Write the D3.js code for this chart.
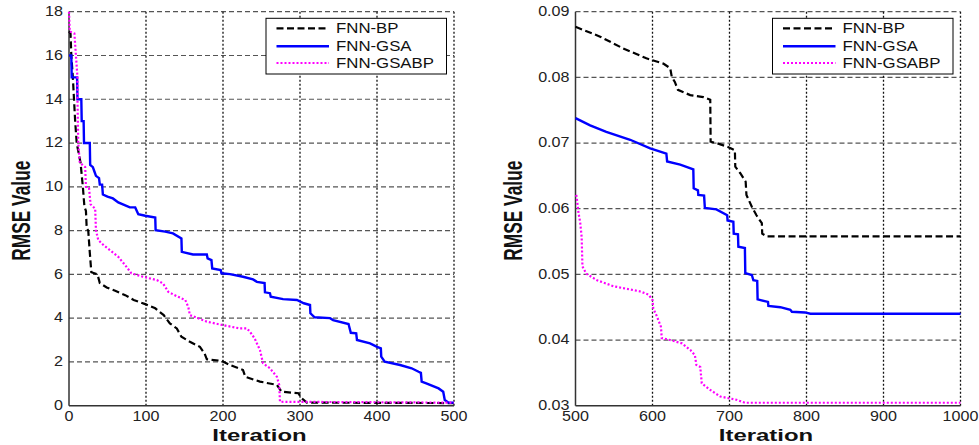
<!DOCTYPE html>
<html><head><meta charset="utf-8">
<script src="https://cdn.jsdelivr.net/npm/d3@7"></script>
<style>html,body{margin:0;padding:0;background:#fff;}svg{display:block;}</style>
</head><body>
<svg id="c" width="979" height="445"></svg>
<script>
// ---------- DATA ----------
const seriesNames = ["FNN-BP", "FNN-GSA", "FNN-GSABP"];
const leftXTicks = [0, 100, 200, 300, 400, 500];
const leftYTicks = [0, 2, 4, 6, 8, 10, 12, 14, 16, 18];
const rightXTicks = [500, 600, 700, 800, 900, 1000];
const rightYTicks = [0.03, 0.04, 0.05, 0.06, 0.07, 0.08, 0.09];
const xTitle = "Iteration";
const yTitle = "RMSE Value";

// left panel: [iteration, RMSE]
const bpLeft = [[0,17.1],[2,17.0],[3,16],[5,15],[6.5,14],[8,13],[10,12],[15,11.1],[18,10],[20,9.1],[22,8.9],[23,8.1],[25,8.0],[27,7.0],[29,6.1],[37,6.0],[40,5.6],[49,5.4],[60,5.25],[73,5.05],[84,4.83],[99,4.64],[112,4.45],[123,4.14],[131,3.76],[140,3.53],[146,3.15],[157,2.92],[170,2.69],[176,2.39],[179,2.12],[198,2.05],[209,1.86],[226,1.63],[229,1.32],[248,1.1],[270,0.95],[276,0.64],[298,0.57],[302,0.34],[309,0.14],[500,0.12]];
const gsaLeft = [[0,16],[3,16],[3.5,15],[10.5,15],[11,14],[16,14],[16.5,13],[19,13],[19.5,12],[27,12],[27.5,11],[31,10.9],[33,10.7],[35,10.5],[39,10.4],[40,10.1],[43,10.1],[44,9.65],[50,9.55],[57,9.47],[64,9.29],[70,9.2],[79,9.06],[86,9.06],[90,8.75],[99,8.68],[112,8.6],[112.5,8.02],[125,7.95],[135,7.87],[146,7.64],[146.5,7.03],[161,6.91],[179,6.91],[180,6.73],[185,6.65],[186,6.27],[197,6.2],[198,6.05],[209,6.01],[226,5.89],[239,5.77],[244,5.66],[254,5.6],[254.5,5.18],[261,5.14],[262,4.98],[278,4.87],[296,4.83],[305,4.68],[313,4.6],[313.5,4.22],[319,4.04],[339,4.0],[343,3.91],[363,3.73],[366,3.33],[373,3.31],[374,3.0],[391,2.85],[400,2.69],[405,2.62],[405.5,2.24],[410,2.01],[430,1.86],[445,1.71],[454,1.55],[457,1.5],[458,1.1],[464,1.02],[480,0.79],[486,0.64],[488,0.26],[493,0.14],[500,0.14]];
const gsabpLeft = [[0,18],[1,17.1],[7,17.0],[9,16],[11,15],[11,14],[12,12],[14,11.1],[21,10.9],[22,10],[26,9.95],[28,9.2],[34,9.0],[35,8.02],[38,7.57],[45,7.33],[53,7.11],[64,6.8],[73,6.42],[81,6.05],[96,5.89],[114,5.74],[122,5.59],[129,5.2],[140,5.0],[151,4.83],[155,4.5],[157,4.14],[179,3.84],[200,3.68],[222,3.53],[231,3.53],[235,3.38],[241,3.08],[248,2.54],[252,1.94],[261,1.71],[270,1.32],[273,0.95],[274,0.18],[500,0.14]];

// right panel: [iteration, RMSE]
const bpRight = [[500,0.0877],[532,0.0862],[562,0.0844],[592,0.0829],[614,0.0821],[623,0.0814],[625,0.0801],[629,0.0793],[633,0.0781],[649,0.0773],[666,0.0770],[675,0.0766],[675.5,0.0702],[683,0.0700],[698,0.0694],[707,0.0689],[707.5,0.0664],[714,0.0654],[721,0.0641],[722,0.0621],[729,0.0603],[735,0.0590],[742,0.0578],[742.5,0.0562],[748,0.0558],[1000,0.0558]];
const gsaRight = [[500,0.0738],[519,0.0727],[540,0.0717],[571,0.0705],[597,0.0692],[618,0.0684],[619,0.0672],[636,0.0667],[653,0.0660],[653.5,0.0631],[659,0.0628],[659.5,0.0621],[667,0.0620],[668,0.0601],[683,0.0599],[697,0.0590],[697.5,0.0582],[705,0.0580],[705.5,0.0562],[711,0.0561],[711.5,0.0542],[720,0.0540],[720.5,0.0502],[729,0.0499],[731,0.0491],[736,0.0490],[736.5,0.0462],[750,0.0458],[750.5,0.0452],[766,0.0450],[779,0.0446],[781,0.0443],[798,0.0442],[805,0.0440],[1000,0.0440]];
const gsabpRight = [[501,0.0621],[502,0.0613],[504,0.0593],[506,0.0580],[508,0.0557],[509,0.0512],[514,0.0501],[528,0.0491],[549,0.0482],[571,0.0477],[584,0.0474],[595,0.0469],[600,0.0461],[601,0.0448],[605,0.0438],[611,0.0420],[612,0.0403],[623,0.0400],[638,0.0395],[649,0.0385],[655,0.0377],[657,0.0362],[662,0.0359],[664,0.0334],[675,0.0324],[688,0.0314],[709,0.0309],[720,0.03045],[1000,0.03045]];

// ---------- STYLE ----------
const styles = [
  {color:"#000000", width:2.2, dash:"7,3.5"},
  {color:"#0000ff", width:2.4, dash:null},
  {color:"#ff00ff", width:2.2, dash:"2,2"}
];
const FONT = "'Liberation Sans', Arial, Helvetica, sans-serif";
const svg = d3.select("#c");

function panel(cfg) {
  const x = d3.scaleLinear().domain(cfg.xDomain).range(cfg.xRange);
  const y = d3.scaleLinear().domain(cfg.yDomain).range([405.7, 11.7]);
  const g = svg.append("g");
  const [x0, x1] = cfg.xRange, y0 = 405.7, y1 = 11.7;

  // horizontal grid (gray dashed)
  g.append("g").selectAll("line").data(cfg.yTicks.filter(v => v !== cfg.yDomain[0]))
    .join("line")
    .attr("x1", x0).attr("x2", x1)
    .attr("y1", d => y(d)).attr("y2", d => y(d))
    .attr("stroke", "#555").attr("stroke-width", 1.2).attr("stroke-dasharray", "5,3");
  // vertical grid (black dotted)
  g.append("g").selectAll("line").data(cfg.xTicks.filter(v => v !== cfg.xDomain[0]))
    .join("line")
    .attr("x1", d => x(d)).attr("x2", d => x(d))
    .attr("y1", y0).attr("y2", y1)
    .attr("stroke", "#111").attr("stroke-width", 1.3).attr("stroke-dasharray", "2,2");

  // axes lines
  g.append("line").attr("x1", x0).attr("x2", x0).attr("y1", y0).attr("y2", y1)
    .attr("stroke", "#333").attr("stroke-width", 1.5);
  g.append("line").attr("x1", x0).attr("x2", x1).attr("y1", y0).attr("y2", y0)
    .attr("stroke", "#333").attr("stroke-width", 1.5);

  // tick labels
  g.append("g").selectAll("text").data(cfg.xTicks).join("text")
    .attr("transform", d => `translate(${x(d)},421) scale(1.15,1)`)
    .attr("text-anchor", "middle").attr("font-family", FONT).attr("font-size", 14)
    .attr("fill", "#222").text(d => cfg.xFmt(d));
  g.append("g").selectAll("text").data(cfg.yTicks).join("text")
    .attr("transform", d => `translate(${x0 - 6},${y(d) + 4.3}) scale(1.15,1)`)
    .attr("text-anchor", "end").attr("font-family", FONT).attr("font-size", 14)
    .attr("fill", "#222").text(d => cfg.yFmt(d));

  // titles
  g.append("text")
    .attr("transform", `translate(${(x0 + x1) / 2 - 2},440.7) scale(1.45,1)`)
    .attr("text-anchor", "middle").attr("font-family", FONT).attr("font-size", 16.5)
    .attr("font-weight", "bold").attr("fill", "#111").text(xTitle);
  g.append("text")
    .attr("transform", `translate(${cfg.yTitleX},${(y0 + y1) / 2 + 2}) rotate(-90) scale(1.05,1.55)`)
    .attr("text-anchor", "middle").attr("font-family", FONT).attr("font-size", 16.5)
    .attr("font-weight", "bold").attr("fill", "#111").text(yTitle);

  // lines
  const line = d3.line().x(d => x(d[0])).y(d => y(d[1]));
  cfg.series.forEach((s, i) => {
    const st = styles[i];
    g.append("path").datum(s).attr("d", line).attr("fill", "none")
      .attr("stroke", st.color).attr("stroke-width", st.width)
      .attr("stroke-dasharray", st.dash).attr("stroke-linejoin", "miter");
  });

  // legend
  const lg = g.append("g");
  lg.append("rect").attr("x", cfg.legX).attr("y", 18.3).attr("width", 180.5).attr("height", 55.7)
    .attr("fill", "#fff").attr("stroke", "#000").attr("stroke-width", 1);
  const rows = [28.3, 46.3, 63];
  seriesNames.forEach((n, i) => {
    const st = styles[i];
    lg.append("line").attr("x1", cfg.legX + 10.5).attr("x2", cfg.legX + 63)
      .attr("y1", rows[i]).attr("y2", rows[i])
      .attr("stroke", st.color).attr("stroke-width", st.width).attr("stroke-dasharray", st.dash);
    lg.append("text").attr("transform", `translate(${cfg.legX + 70},${rows[i] + 5}) scale(1.2,1)`)
      .attr("font-family", FONT).attr("font-size", 14).attr("fill", "#111").text(n);
  });
}

panel({
  xDomain: [0, 500], xRange: [69, 454], yDomain: [0, 18],
  xTicks: leftXTicks, yTicks: leftYTicks,
  xFmt: d => d, yFmt: d => d,
  yTitleX: 30, legX: 266,
  series: [bpLeft, gsaLeft, gsabpLeft]
});
panel({
  xDomain: [500, 1000], xRange: [575.5, 960.5], yDomain: [0.03, 0.09],
  xTicks: rightXTicks, yTicks: rightYTicks,
  xFmt: d => d, yFmt: d => d3.format(".2f")(d),
  yTitleX: 522, legX: 772.5,
  series: [bpRight, gsaRight, gsabpRight]
});
</script>
</body></html>
